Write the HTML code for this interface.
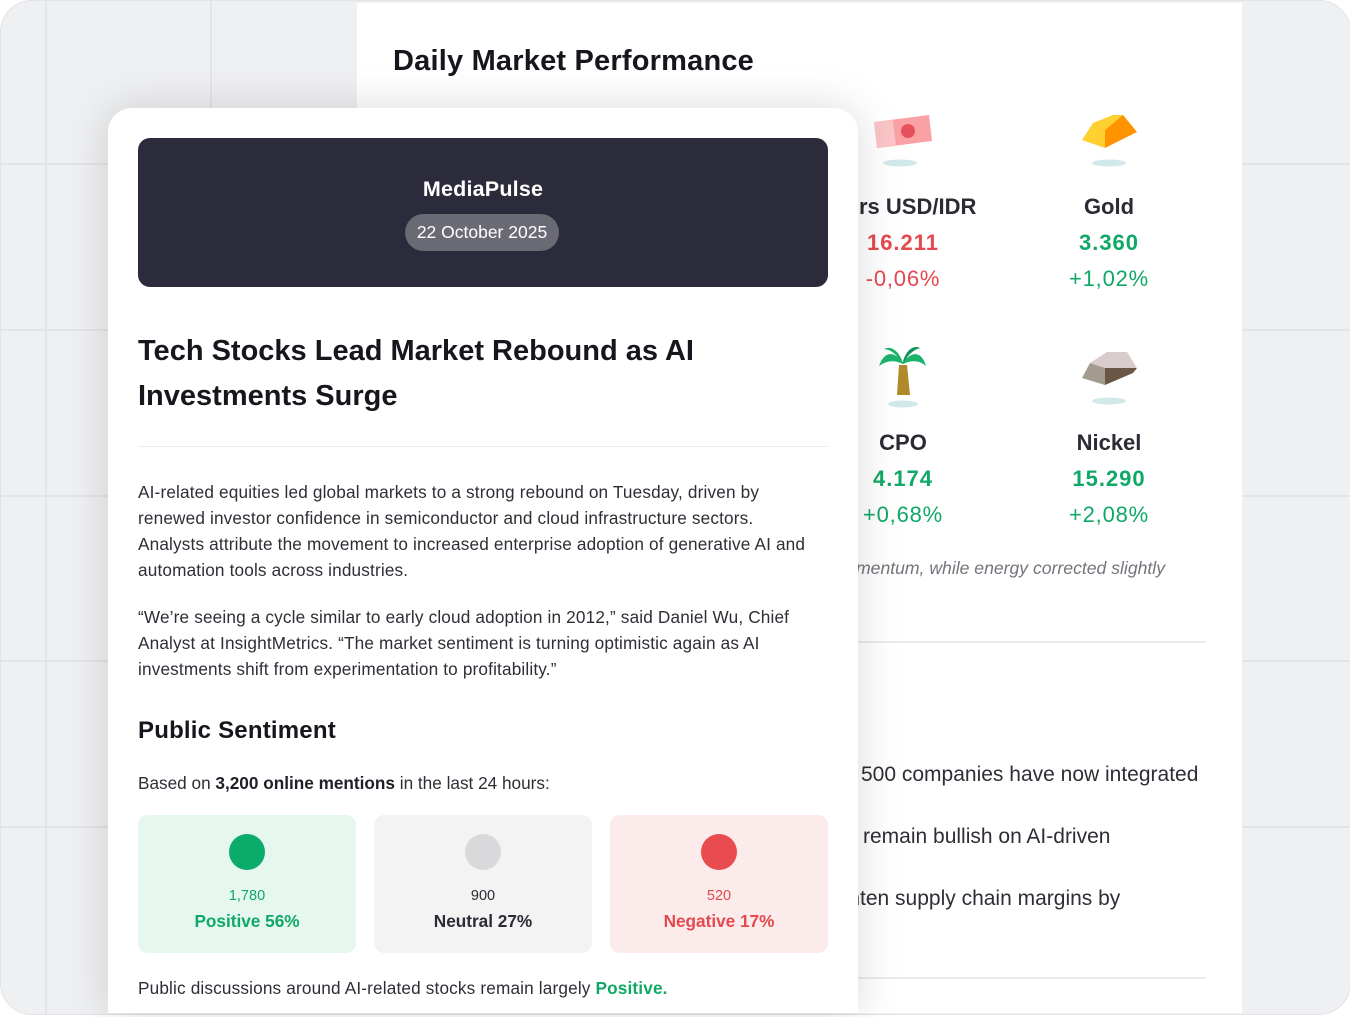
<!DOCTYPE html>
<html>
<head>
<meta charset="utf-8">
<style>
  html,body{margin:0;padding:0;}
  body{width:1350px;height:1017px;position:relative;overflow:hidden;background:#ffffff;font-family:"Liberation Sans",sans-serif;color:#2e2e36;}
  .abs{position:absolute;}
  .frame{position:absolute;left:0;top:0;width:1349px;height:1013px;background:#eff0f2;border-radius:32px;border:1px solid #e2e3e6;overflow:hidden;}
  .hl{position:absolute;left:0;width:1350px;height:2px;background:#e3e4e7;}
  .vl{position:absolute;top:0;height:1017px;width:2px;background:#e3e4e7;}
  .back{position:absolute;left:357px;top:3px;width:885px;height:1010px;background:#ffffff;}
  .front{position:absolute;left:108px;top:108px;width:750px;height:905px;background:#ffffff;border-radius:24px 24px 0 0;box-shadow:0 0 44px rgba(0,0,0,0.15);}
  .nw{white-space:nowrap;}
  .c{position:absolute;text-align:center;white-space:nowrap;}
  .lab{font-weight:bold;font-size:22px;color:#2b2b36;line-height:30px;}
  .val{font-weight:bold;font-size:22px;line-height:30px;letter-spacing:1px;}
  .chg{font-size:22px;line-height:30px;letter-spacing:0.8px;}
  .red{color:#e5484d;}
  .grn{color:#10a866;}
  .p{position:absolute;left:138px;font-size:17.2px;line-height:26px;color:#2e2e36;white-space:nowrap;letter-spacing:0.16px;}
  .box{position:absolute;top:815px;width:218px;height:138px;border-radius:10px;}
  .dot{position:absolute;top:834px;width:36px;height:36px;border-radius:50%;}
  .num{position:absolute;top:886px;width:218px;text-align:center;font-size:14.5px;line-height:20px;}
  .blab{position:absolute;top:909px;width:218px;text-align:center;font-size:17.2px;font-weight:bold;line-height:24px;}
  .bl{position:absolute;font-size:21px;line-height:28px;color:#2e2e36;white-space:nowrap;}
</style>
</head>
<body>
<div class="frame">
  <div class="hl" style="top:162px"></div>
  <div class="hl" style="top:328px"></div>
  <div class="hl" style="top:494px"></div>
  <div class="hl" style="top:659px"></div>
  <div class="hl" style="top:825px"></div>
  <div class="vl" style="left:44px"></div>
  <div class="vl" style="left:209px"></div>
</div>

<!-- Back card -->
<div class="back"></div>
<div class="abs nw" style="left:393px;top:43px;font-size:29px;font-weight:bold;color:#16161d;line-height:36px;letter-spacing:0.2px;">Daily Market Performance</div>

<svg class="abs" style="left:0;top:0" width="1350" height="1017" viewBox="0 0 1350 1017">
  <!-- bill -->
  <ellipse cx="900" cy="163" rx="17" ry="3.5" fill="#d3e8ea"/>
  <polygon points="874,122 929,115 932,141 877,148" fill="#f9a1a5"/>
  <polygon points="874,122 893,120 896,146 877,148" fill="#fbc4c6"/>
  <circle cx="908" cy="131" r="7" fill="#e8505b"/>
  <!-- gold -->
  <ellipse cx="1109" cy="163" rx="17" ry="3.5" fill="#d3e8ea"/>
  <polygon points="1082,140 1093,123 1113,115 1123,115 1105,130 1105,148" fill="#ffd030"/>
  <polygon points="1105,130 1123,115 1137,132 1105,148" fill="#ff9300"/>
  <!-- palm -->
  <ellipse cx="903" cy="404" rx="15" ry="3.5" fill="#d3e8ea"/>
  <polygon points="899,365 907,365 910,395 897,395" fill="#b08a2a"/>
  <path d="M903,362 C893,350 884,352 879,366 C887,360 895,360 903,364 Z" fill="#1cb36b"/>
  <path d="M903,362 C913,350 922,352 926,366 C919,360 911,360 903,364 Z" fill="#1cb36b"/>
  <path d="M902,360 C897,349 890,346 884,349 C892,350 897,355 901,362 Z" fill="#1cb36b"/>
  <path d="M903,361 C907,349 914,345 920,348 C913,350 908,355 904,362 Z" fill="#0f9458"/>
  <!-- nickel -->
  <ellipse cx="1109" cy="401" rx="17" ry="3.5" fill="#d3e8ea"/>
  <polygon points="1090,363 1107,352 1127,352 1137,368 1105,368" fill="#d9cccc"/>
  <polygon points="1082,378 1090,363 1105,368 1105,385" fill="#a39b8f"/>
  <polygon points="1105,368 1137,368 1133,373 1105,385" fill="#6b5646"/>
</svg>

<div class="c lab" style="left:803px;width:200px;top:192px;">Kurs USD/IDR</div>
<div class="c val red" style="left:803px;width:200px;top:228px;">16.211</div>
<div class="c chg red" style="left:803px;width:200px;top:264px;">-0,06%</div>
<div class="c lab" style="left:1009px;width:200px;top:192px;">Gold</div>
<div class="c val grn" style="left:1009px;width:200px;top:228px;">3.360</div>
<div class="c chg grn" style="left:1009px;width:200px;top:264px;">+1,02%</div>

<div class="c lab" style="left:803px;width:200px;top:428px;">CPO</div>
<div class="c val grn" style="left:803px;width:200px;top:464px;">4.174</div>
<div class="c chg grn" style="left:803px;width:200px;top:500px;">+0,68%</div>
<div class="c lab" style="left:1009px;width:200px;top:428px;">Nickel</div>
<div class="c val grn" style="left:1009px;width:200px;top:464px;">15.290</div>
<div class="c chg grn" style="left:1009px;width:200px;top:500px;">+2,08%</div>

<div class="abs nw" style="right:185px;top:556px;font-size:17.6px;font-style:italic;color:#74747c;line-height:24px;text-align:right;">Tech and metals showed strong momentum, while energy corrected slightly</div>

<div class="abs" style="left:393px;top:641px;width:813px;height:2px;background:#ececee;"></div>
<div class="abs" style="left:393px;top:977px;width:813px;height:2px;background:#ececee;"></div>

<div class="bl" style="right:489px;top:761px;text-align:right;">Over 60% of S&amp;P&nbsp;</div>
<div class="bl" style="left:861px;top:761px;">500 companies have now integrated</div>
<div class="bl" style="right:487px;top:823px;text-align:right;">Analysts&nbsp;</div>
<div class="bl" style="left:863px;top:823px;">remain bullish on AI-driven</div>
<div class="bl" style="right:490px;top:885px;text-align:right;">AI could tigh</div>
<div class="bl" style="left:860px;top:885px;">ten supply chain margins by</div>

<!-- Front card -->
<div class="front"></div>
<div class="abs" style="left:138px;top:138px;width:690px;height:149px;background:#2c2b3c;border-radius:12px;"></div>
<div class="c" style="left:138px;width:690px;top:175px;font-size:21.5px;font-weight:bold;color:#ffffff;line-height:28px;letter-spacing:0.2px;">MediaPulse</div>
<div class="c" style="left:405px;top:214px;width:154px;height:37px;border-radius:19px;background:#6a6a74;color:#ffffff;font-size:17.5px;line-height:37px;">22 October 2025</div>

<div class="abs nw" style="left:138px;top:329px;font-size:29px;font-weight:bold;color:#16161d;line-height:45px;letter-spacing:0px;">Tech Stocks Lead Market Rebound as AI<br>Investments Surge</div>

<div class="abs" style="left:138px;top:446px;width:690px;height:1px;background:#ececee;"></div>

<div class="p" style="top:479px;">AI-related equities led global markets to a strong rebound on Tuesday, driven by<br>renewed investor confidence in semiconductor and cloud infrastructure sectors.<br>Analysts attribute the movement to increased enterprise adoption of generative AI and<br>automation tools across industries.</div>

<div class="p" style="top:604px;">“We’re seeing a cycle similar to early cloud adoption in 2012,” said Daniel Wu, Chief<br>Analyst at InsightMetrics. “The market sentiment is turning optimistic again as AI<br>investments shift from experimentation to profitability.”</div>

<div class="abs nw" style="left:138px;top:716px;font-size:24px;font-weight:bold;color:#16161d;line-height:30px;letter-spacing:0.2px;">Public Sentiment</div>

<div class="p" style="top:770px;letter-spacing:0;">Based on <b style="color:#1f1f28;">3,200 online mentions</b> in the last 24 hours:</div>

<div class="box" style="left:138px;background:#e5f7ef;"></div>
<div class="box" style="left:374px;background:#f3f3f4;"></div>
<div class="box" style="left:610px;background:#fcebeb;"></div>
<div class="dot" style="left:229px;background:#0aab6b;"></div>
<div class="dot" style="left:465px;background:#d9d9dc;"></div>
<div class="dot" style="left:701px;background:#e84c4f;"></div>
<div class="num" style="left:138px;color:#10a866;">1,780</div>
<div class="num" style="left:374px;color:#2b2b36;">900</div>
<div class="num" style="left:610px;color:#e5484d;">520</div>
<div class="blab" style="left:138px;color:#10a866;">Positive 56%</div>
<div class="blab" style="left:374px;color:#2b2b36;">Neutral 27%</div>
<div class="blab" style="left:610px;color:#e5484d;">Negative 17%</div>

<div class="p" style="top:975px;">Public discussions around AI-related stocks remain largely <b style="color:#10a866;">Positive.</b></div>

</body>
</html>
